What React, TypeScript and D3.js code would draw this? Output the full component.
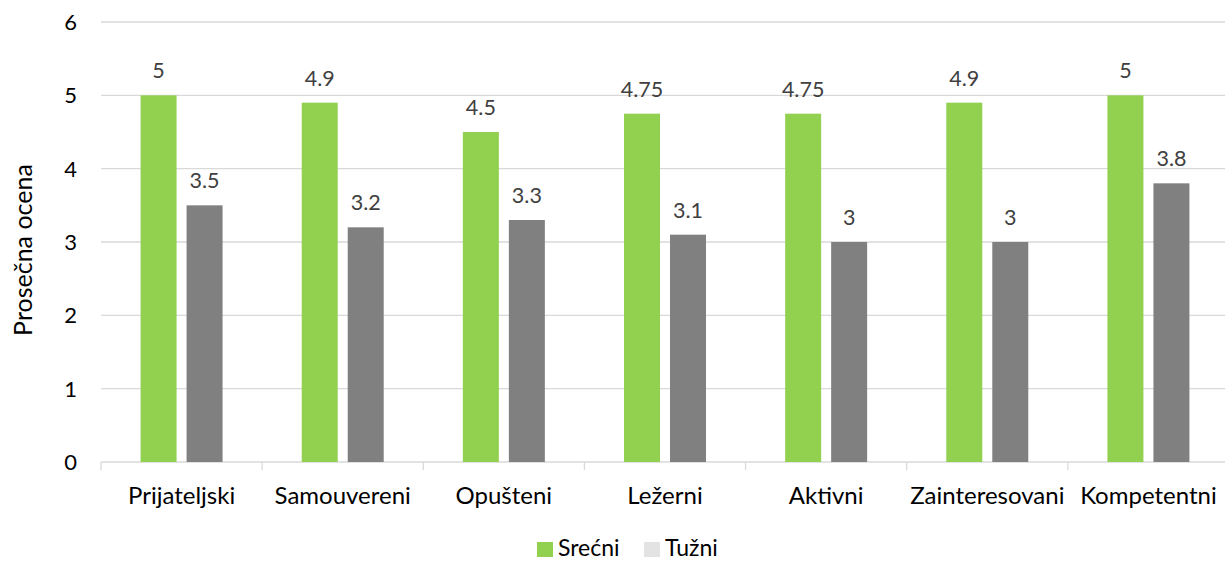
import React from "react";
import * as d3 from "d3";

const categories = ["Prijateljski", "Samouvereni", "Opušteni", "Ležerni", "Aktivni", "Zainteresovani", "Kompetentni"];
const sretni = [5, 4.9, 4.5, 4.75, 4.75, 4.9, 5];
const tuzni = [3.5, 3.2, 3.3, 3.1, 3, 3, 3.8];
const seriesNames = ["Srećni", "Tužni"];
const yTicks = [0, 1, 2, 3, 4, 5, 6];

const W = 1225;
const H = 562;
const left = 101;
const right = 1229;
const top = 22;
const bottom = 462;
const font = "Lato, 'Open Sans', sans-serif";

export default function App() {
  const x = d3.scaleBand<string>().domain(categories).range([left, right]);
  const y = d3.scaleLinear().domain([0, 6]).range([bottom, top]);
  const bw = 36;
  const gap = 10;
  const series = [
    { name: seriesNames[0], values: sretni, color: "#92d050", legend: "#92d050", off: -gap / 2 - bw },
    { name: seriesNames[1], values: tuzni, color: "#808080", legend: "#e3e3e3", off: gap / 2 },
  ];
  const fmt = (v: number) => String(v);
  return (
    <svg width={W} height={H} style={{ position: "absolute", left: 0, top: 0, background: "#fff" }} fontFamily={font}>
      {yTicks.map((t) => (
        <g key={t}>
          {t > 0 && <line x1={left} x2={right} y1={y(t)} y2={y(t)} stroke="#d9d9d9" strokeWidth={1.3} />}
          <text x={77} y={y(t) + 8} textAnchor="end" fontSize={22} fill="#000">{t}</text>
        </g>
      ))}
      <line x1={left} x2={right} y1={bottom} y2={bottom} stroke="#d9d9d9" strokeWidth={1.3} />
      {categories.map((c, i) => (
        <line key={"tk" + i} x1={x(c)!} x2={x(c)!} y1={bottom} y2={bottom + 8} stroke="#d9d9d9" strokeWidth={1.3} />
      ))}
      {series.map((s) =>
        categories.map((c, i) => {
          const cx = x(c)! + x.bandwidth() / 2;
          const bx = cx + s.off;
          return (
            <g key={s.name + c}>
              <rect x={bx} y={y(s.values[i])} width={bw} height={bottom - y(s.values[i])} fill={s.color} />
              <text x={bx + bw / 2} y={y(s.values[i]) - 17} textAnchor="middle" fontSize={21.5} fill="#404040">{fmt(s.values[i])}</text>
            </g>
          );
        })
      )}
      {categories.map((c) => (
        <text key={"l" + c} x={x(c)! + x.bandwidth() / 2} y={504} textAnchor="middle" fontSize={24} fill="#000">{c}</text>
      ))}
      <text transform={`translate(32,250) rotate(-90)`} textAnchor="middle" fontSize={25} fill="#000">Prosečna ocena</text>
      <g>
        <rect x={537} y={542} width={16} height={15} fill={series[0].legend} />
        <text x={558} y={556} fontSize={23} fill="#000">{series[0].name}</text>
        <rect x={644} y={542} width={16} height={15} fill={series[1].legend} />
        <text x={665} y={556} fontSize={23} fill="#000">{series[1].name}</text>
      </g>
    </svg>
  );
}
